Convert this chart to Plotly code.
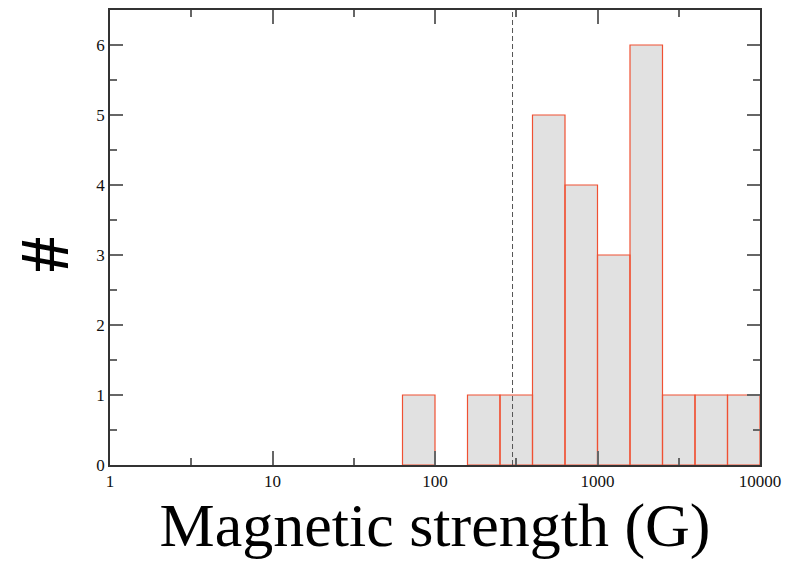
import plotly.graph_objects as go

# Histogram data (magnetic field strength in G, bins of 0.2 dex)
bin_edges = [63.1, 100.0, 158.5, 251.2, 398.1, 631.0, 1000.0, 1584.9, 2511.9, 3981.1, 6309.6, 10000.0]
counts = [1, 0, 1, 1, 5, 4, 3, 6, 1, 1, 1]
threshold = 300.0

x_tick_vals = [1, 10, 100, 1000, 10000]
x_tick_text = ["1", "10", "100", "1000", "10000"]
x_minor_vals = [3.162, 31.62, 316.2, 3162]
y_tick_vals = [0, 1, 2, 3, 4, 5, 6]

# Build bar outlines (polygons) from the bins
xs, ys = [], []
for lo, hi, c in zip(bin_edges[:-1], bin_edges[1:], counts):
    if c <= 0:
        continue
    xs += [lo, lo, hi, hi, lo, None]
    ys += [0, c, c, 0, 0, None]

fig = go.Figure()
# fills
fig.add_trace(go.Scatter(
    x=xs, y=ys, mode="lines", fill="toself",
    fillcolor="#e1e1e1", line=dict(color="rgba(0,0,0,0)", width=0),
    hoverinfo="skip", showlegend=False,
))
# outlines drawn on top so shared edges stay red
fig.add_trace(go.Scatter(
    x=xs, y=ys, mode="lines",
    line=dict(color="rgb(240,80,50)", width=1.2),
    hoverinfo="skip", showlegend=False,
))
fig.add_trace(go.Scatter(
    x=[threshold, threshold], y=[0, 6.5], mode="lines",
    line=dict(color="#555555", width=1, dash="5px,3px"),
    hoverinfo="skip", showlegend=False,
))

tick_font = dict(family="Liberation Serif, Times New Roman, serif", size=17, color="#111111")
axis_common = dict(
    showline=True, linecolor="#333333", linewidth=1.5, mirror="allticks",
    ticks="inside", tickcolor="#666666", tickwidth=1.5,
    showgrid=False, zeroline=False,
)

fig.update_xaxes(
    type="log", range=[0, 4],
    tickvals=x_tick_vals, ticktext=x_tick_text, ticklen=14, tickfont=tick_font,
    minor=dict(tickvals=x_minor_vals, ticks="inside", ticklen=7, tickcolor="#666666", tickwidth=1.5),
    title=dict(text="Magnetic strength (G)", font=dict(family="Liberation Serif, Times New Roman, serif", size=62, color="black"), standoff=4),
    **axis_common,
)
fig.update_yaxes(
    range=[0, 6.5], tickvals=y_tick_vals, ticklen=13, tickfont=tick_font,
    minor=dict(dtick=0.5, ticks="inside", ticklen=7, tickcolor="#666666", tickwidth=1.5),
    **axis_common,
)

fig.add_annotation(
    text="<b>#</b>", xref="paper", yref="paper", x=-0.1015, y=0.4615,
    xanchor="center", yanchor="middle", textangle=-90, showarrow=False,
    font=dict(family="Liberation Serif, Times New Roman, serif", size=70, color="black"),
)

fig.update_layout(
    width=785, height=563,
    margin=dict(l=110, r=25, t=10, b=98, autoexpand=False),
    plot_bgcolor="white", paper_bgcolor="white",
)

fig.write_html("out.html")
